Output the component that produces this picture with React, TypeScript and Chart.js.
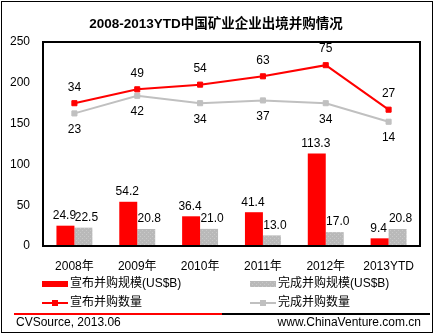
import React, { useEffect, useRef } from "react";
import { Chart, registerables } from "chart.js";

Chart.register(...registerables);

const categories = ["2008年", "2009年", "2010年", "2011年", "2012年", "2013YTD"];
const announcedValue = [24.9, 54.2, 36.4, 41.4, 113.3, 9.4];
const completedValue = [22.5, 20.8, 21.0, 13.0, 17.0, 20.8];
const announcedCount = [34, 49, 54, 63, 75, 27];
const completedCount = [23, 42, 34, 37, 34, 14];
const yMin = 0;
const yMax = 250;
const yStep = 50;
const countAxisMin = -120;
const countAxisMax = 100;
const titleText = "2008-2013YTD中国矿业企业出境并购情况";
const legendLabels = ["宣布并购规模(US$B)", "完成并购规模(US$B)", "宣布并购数量", "完成并购数量"];
const sourceText = "CVSource, 2013.06";
const siteText = "www.ChinaVenture.com.cn";

const FONT = "'Liberation Sans', Arial, 'Noto Sans CJK SC', sans-serif";
const RED = "#ff0000";
const GRAY = "#bdbdbd";
const GRAY_LINE = "#c0c0c0";

function makePattern(): CanvasPattern | string {
  const c = document.createElement("canvas");
  c.width = 4;
  c.height = 4;
  const g = c.getContext("2d");
  if (!g) return GRAY;
  g.fillStyle = "#b9b9b9";
  g.fillRect(0, 0, 4, 4);
  g.fillStyle = "#c9c9c9";
  g.fillRect(0, 0, 1, 1);
  g.fillRect(2, 2, 1, 1);
  const p = g.createPattern(c, "repeat");
  return p || GRAY;
}

export default function App() {
  const ref = useRef<HTMLCanvasElement | null>(null);

  useEffect(() => {
    const canvas = ref.current;
    if (!canvas) return;
    const pattern = makePattern();

    const decor = {
      id: "decor",
      afterDatasetsDraw(chart: any) {
        const ctx = chart.ctx;
        const a = chart.chartArea;
        ctx.save();
        ctx.font = `12px ${FONT}`;
        ctx.fillStyle = "#000";
        ctx.textAlign = "center";
        ctx.textBaseline = "middle";
        // bar labels
        [0, 1].forEach((di) => {
          const meta = chart.getDatasetMeta(di);
          const data = chart.data.datasets[di].data;
          meta.data.forEach((el: any, i: number) => {
            const v = data[i] as number;
            const dx = di === 0 ? -1 : 3;
            ctx.fillText(v.toFixed(1), el.x + dx, el.y - 10);
          });
        });
        // line labels
        [2, 3].forEach((di) => {
          const meta = chart.getDatasetMeta(di);
          const data = chart.data.datasets[di].data;
          meta.data.forEach((el: any, i: number) => {
            const v = data[i] as number;
            ctx.fillText(String(v), el.x, di === 2 ? el.y - 16 : el.y + 16);
          });
        });
        // plot box
        ctx.strokeStyle = "#000";
        ctx.lineWidth = 2;
        ctx.strokeRect(a.left, a.top, a.right - a.left, a.bottom - a.top);
        ctx.restore();
      },
      afterDraw(chart: any) {
        const ctx = chart.ctx;
        ctx.save();
        // title
        ctx.fillStyle = "#000";
        ctx.font = `bold 13.5px ${FONT}`;
        ctx.textAlign = "center";
        ctx.textBaseline = "middle";
        ctx.fillText(titleText, 216, 24);

        // legend
        ctx.font = `12px ${FONT}`;
        ctx.textAlign = "left";
        const r1 = 284;
        const r2 = 303;
        ctx.fillStyle = RED;
        ctx.fillRect(42, r1 - 3, 26, 6);
        ctx.fillStyle = pattern as any;
        ctx.fillRect(250, r1 - 3, 26, 6);
        ctx.lineWidth = 2;
        ctx.strokeStyle = RED;
        ctx.beginPath();
        ctx.moveTo(42, r2);
        ctx.lineTo(68, r2);
        ctx.stroke();
        ctx.fillStyle = RED;
        ctx.fillRect(52, r2 - 3, 6, 6);
        ctx.strokeStyle = GRAY_LINE;
        ctx.beginPath();
        ctx.moveTo(250, r2);
        ctx.lineTo(276, r2);
        ctx.stroke();
        ctx.fillStyle = GRAY_LINE;
        ctx.fillRect(260, r2 - 3, 6, 6);
        ctx.fillStyle = "#000";
        ctx.fillText(legendLabels[0], 70, r1);
        ctx.fillText(legendLabels[1], 278, r1);
        ctx.fillText(legendLabels[2], 70, r2);
        ctx.fillText(legendLabels[3], 278, r2);

        // separator
        ctx.lineWidth = 2;
        ctx.strokeStyle = RED;
        ctx.beginPath();
        ctx.moveTo(14, 314);
        ctx.lineTo(222, 314);
        ctx.stroke();
        ctx.strokeStyle = "#000";
        ctx.beginPath();
        ctx.moveTo(222, 314);
        ctx.lineTo(430, 314);
        ctx.stroke();

        // footer
        ctx.fillStyle = "#000";
        ctx.textAlign = "left";
        ctx.fillText(sourceText, 16, 323);
        ctx.textAlign = "right";
        ctx.fillText(siteText, 421, 323);

        // outer border
        ctx.lineWidth = 1;
        ctx.strokeStyle = "#000";
        ctx.strokeRect(1.5, 1.5, 431, 331);
        ctx.restore();
      },
    };

    const chart = new Chart(canvas, {
      type: "bar",
      data: {
        labels: categories,
        datasets: [
          {
            type: "bar",
            label: legendLabels[0],
            data: announcedValue,
            backgroundColor: RED,
            borderWidth: 0,
            categoryPercentage: 0.572,
            barPercentage: 1,
            yAxisID: "y",
            order: 2,
          } as any,
          {
            type: "bar",
            label: legendLabels[1],
            data: completedValue,
            backgroundColor: pattern as any,
            borderWidth: 0,
            categoryPercentage: 0.572,
            barPercentage: 1,
            yAxisID: "y",
            order: 2,
          } as any,
          {
            type: "line",
            label: legendLabels[2],
            data: announcedCount,
            borderColor: RED,
            backgroundColor: RED,
            borderWidth: 2,
            pointStyle: "rect",
            pointRadius: 3.6,
            pointBorderWidth: 1,
            pointBackgroundColor: RED,
            pointBorderColor: RED,
            tension: 0,
            yAxisID: "y2",
            order: 1,
          } as any,
          {
            type: "line",
            label: legendLabels[3],
            data: completedCount,
            borderColor: GRAY_LINE,
            backgroundColor: GRAY_LINE,
            borderWidth: 2,
            pointStyle: "rect",
            pointRadius: 3.6,
            pointBorderWidth: 1,
            pointBackgroundColor: GRAY_LINE,
            pointBorderColor: GRAY_LINE,
            tension: 0,
            yAxisID: "y2",
            order: 1,
          } as any,
        ],
      },
      options: {
        responsive: false,
        animation: false,
        devicePixelRatio: 1,
        layout: { padding: { top: 42, right: 15, bottom: 59, left: 0 } },
        plugins: {
          legend: { display: false },
          title: { display: false },
          tooltip: { enabled: false },
        },
        scales: {
          x: {
            type: "category",
            grid: { display: false, drawTicks: false },
            border: { display: false },
            ticks: { color: "#000", font: { size: 12, family: FONT }, padding: 13, maxRotation: 0, autoSkip: false },
            afterFit: (s: any) => {
              s.height = 30;
            },
          },
          y: {
            position: "left",
            min: yMin,
            max: yMax,
            grid: { display: false, drawTicks: false },
            border: { display: false },
            ticks: { stepSize: yStep, color: "#000", font: { size: 12, family: FONT }, padding: 13 },
            afterFit: (s: any) => {
              s.width = 43;
            },
          },
          y2: {
            position: "right",
            display: false,
            min: countAxisMin,
            max: countAxisMax,
          },
        },
      } as any,
      plugins: [decor],
    });

    return () => chart.destroy();
  }, []);

  return (
    <div style={{ position: "absolute", left: 0, top: 0, width: 435, height: 335, background: "#fff" }}>
      <canvas ref={ref} width={435} height={335} style={{ display: "block" }} />
    </div>
  );
}
